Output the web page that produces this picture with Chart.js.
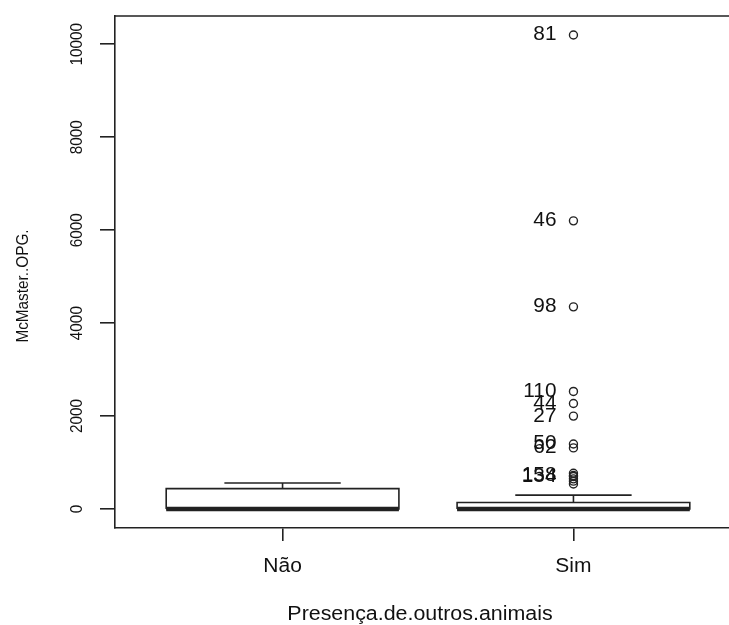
<!DOCTYPE html>
<html>
<head>
<meta charset="utf-8">
<script src="https://cdn.jsdelivr.net/npm/chart.js@4"></script>
<style>
    html, body { margin: 0; padding: 0; background: #ffffff; overflow: hidden; }
    #wrap { position: absolute; left: 0; top: 0; width: 760px; height: 625px; }
</style>
</head>
<body>
<div id="wrap"><canvas id="box-chart" width="760" height="625"></canvas></div>
<script>
// Boxplot of McMaster OPG by presence of other animals
const categories = ['Não', 'Sim'];
const whiskerLow = [0, 0];
const quartile1 = [0, 0];
const medians = [0, 0];
const quartile3 = [440, 142];
const whiskerHigh = [560, 300];

// outliers (all in the "Sim" group) and their row ids
const outlierGroup = [2, 2, 2, 2, 2, 2, 2, 2, 2, 2, 2, 2, 2, 2];
const outlierValues = [10200, 6200, 4350, 2530, 2270, 2000, 1400, 1315, 770, 720, 700, 650, 600, 540];
const outlierIds = ['81', '46', '98', '110', '44', '27', '50', '62', '', '158', '134', '', '', ''];

const yTicks = [0, 2000, 4000, 6000, 8000, 10000];
const yTitle = 'McMaster..OPG.';
const xTitle = 'Presença.de.outros.animais';

const lineColor = '#222222';
const textColor = '#111111';
const fontFamily = '"Liberation Sans", Arial, sans-serif';
const boxHalf = 0.4;
const stapleHalf = 0.2;

// one small line dataset for every segment of the boxes
function segment(points, width) {
    return {
        type: 'scatter',
        data: points,
        showLine: true,
        borderColor: lineColor,
        borderWidth: width,
        pointRadius: 0,
        fill: false
    };
}

let datasets = [];
for (let i = 0; i < categories.length; i++) {
    let x = i + 1;
    // box
    datasets.push(segment([
        {x: x - boxHalf, y: quartile1[i]},
        {x: x - boxHalf, y: quartile3[i]},
        {x: x + boxHalf, y: quartile3[i]},
        {x: x + boxHalf, y: quartile1[i]},
        {x: x - boxHalf, y: quartile1[i]}
    ], 1.6));
    // whiskers + staples
    datasets.push(segment([{x: x, y: quartile3[i]}, {x: x, y: whiskerHigh[i]}], 1.6));
    datasets.push(segment([{x: x - stapleHalf, y: whiskerHigh[i]}, {x: x + stapleHalf, y: whiskerHigh[i]}], 1.6));
    datasets.push(segment([{x: x, y: quartile1[i]}, {x: x, y: whiskerLow[i]}], 1.6));
    datasets.push(segment([{x: x - stapleHalf, y: whiskerLow[i]}, {x: x + stapleHalf, y: whiskerLow[i]}], 1.6));
    // median
    datasets.push(segment([{x: x - boxHalf, y: medians[i]}, {x: x + boxHalf, y: medians[i]}], 4.5));
}

let outlierPoints = [];
for (let i = 0; i < outlierValues.length; i++) {
    outlierPoints.push({x: outlierGroup[i], y: outlierValues[i]});
}
datasets.push({
    type: 'scatter',
    data: outlierPoints,
    pointRadius: 4,
    pointBorderWidth: 1.4,
    pointBorderColor: lineColor,
    pointBackgroundColor: 'rgba(0,0,0,0)',
    showLine: false
});

// text stretched a little along its own direction, optionally rotated
function stretchedText(ctx, text, x, y, sx, angle) {
    ctx.save();
    ctx.translate(x, y);
    if (angle) ctx.rotate(angle);
    ctx.scale(sx, 1);
    ctx.fillText(text, 0, 0);
    ctx.restore();
}

// frame, labels, axis titles and outlier ids
const extrasPlugin = {
    id: 'extras',
    afterDraw(chart) {
        const ctx = chart.ctx;
        const area = chart.chartArea;
        const xs = chart.scales.x;
        const ys = chart.scales.y;
        ctx.save();
        ctx.strokeStyle = lineColor;
        ctx.lineWidth = 1.6;
        ctx.beginPath();
        ctx.moveTo(area.left, area.top);
        ctx.lineTo(area.right, area.top);
        ctx.lineTo(area.right, area.bottom);
        ctx.stroke();

        ctx.fillStyle = textColor;
        ctx.textAlign = 'center';
        ctx.textBaseline = 'middle';

        // y tick labels and title, written upwards
        ctx.font = '17px ' + fontFamily;
        for (let i = 0; i < yTicks.length; i++) {
            stretchedText(ctx, String(yTicks[i]), 77, ys.getPixelForValue(yTicks[i]), 0.9, -Math.PI / 2);
        }
        stretchedText(ctx, yTitle, 23, 286, 0.9, -Math.PI / 2);

        // category labels and x title
        ctx.font = '20px ' + fontFamily;
        for (let i = 0; i < categories.length; i++) {
            stretchedText(ctx, categories[i], xs.getPixelForValue(i + 1), 566, 1.05, 0);
        }
        stretchedText(ctx, xTitle, 420, 614, 1.07, 0);

        ctx.textAlign = 'right';
        for (let i = 0; i < outlierValues.length; i++) {
            if (outlierIds[i] === '') continue;
            stretchedText(ctx, outlierIds[i], xs.getPixelForValue(outlierGroup[i]) - 17, ys.getPixelForValue(outlierValues[i]), 1.04, 0);
        }
        ctx.restore();
    }
};

const boxChart = new Chart(document.getElementById('box-chart'), {
    type: 'scatter',
    data: {datasets: datasets},
    plugins: [extrasPlugin],
    options: {
        responsive: false,
        animation: false,
        layout: {padding: {top: 16, right: 19, left: 0, bottom: 0}},
        plugins: {
            legend: {display: false},
            tooltip: {enabled: false}
        },
        scales: {
            x: {
                type: 'linear',
                min: 0.424,
                max: 2.576,
                afterBuildTicks: (scale) => { scale.ticks = categories.map((c, i) => ({value: i + 1})); },
                afterFit: (scale) => { scale.height = 97; },
                ticks: {display: false},
                grid: {drawOnChartArea: false, drawTicks: true, tickLength: 13, color: lineColor, lineWidth: 1.6},
                border: {display: true, color: lineColor, width: 1.6}
            },
            y: {
                type: 'linear',
                min: -408,
                max: 10608,
                afterBuildTicks: (scale) => { scale.ticks = yTicks.map((v) => ({value: v})); },
                afterFit: (scale) => { scale.width = 115; },
                ticks: {display: false},
                grid: {drawOnChartArea: false, drawTicks: true, tickLength: 15, color: lineColor, lineWidth: 1.6},
                border: {display: true, color: lineColor, width: 1.6}
            }
        }
    }
});
</script>
</body>
</html>
